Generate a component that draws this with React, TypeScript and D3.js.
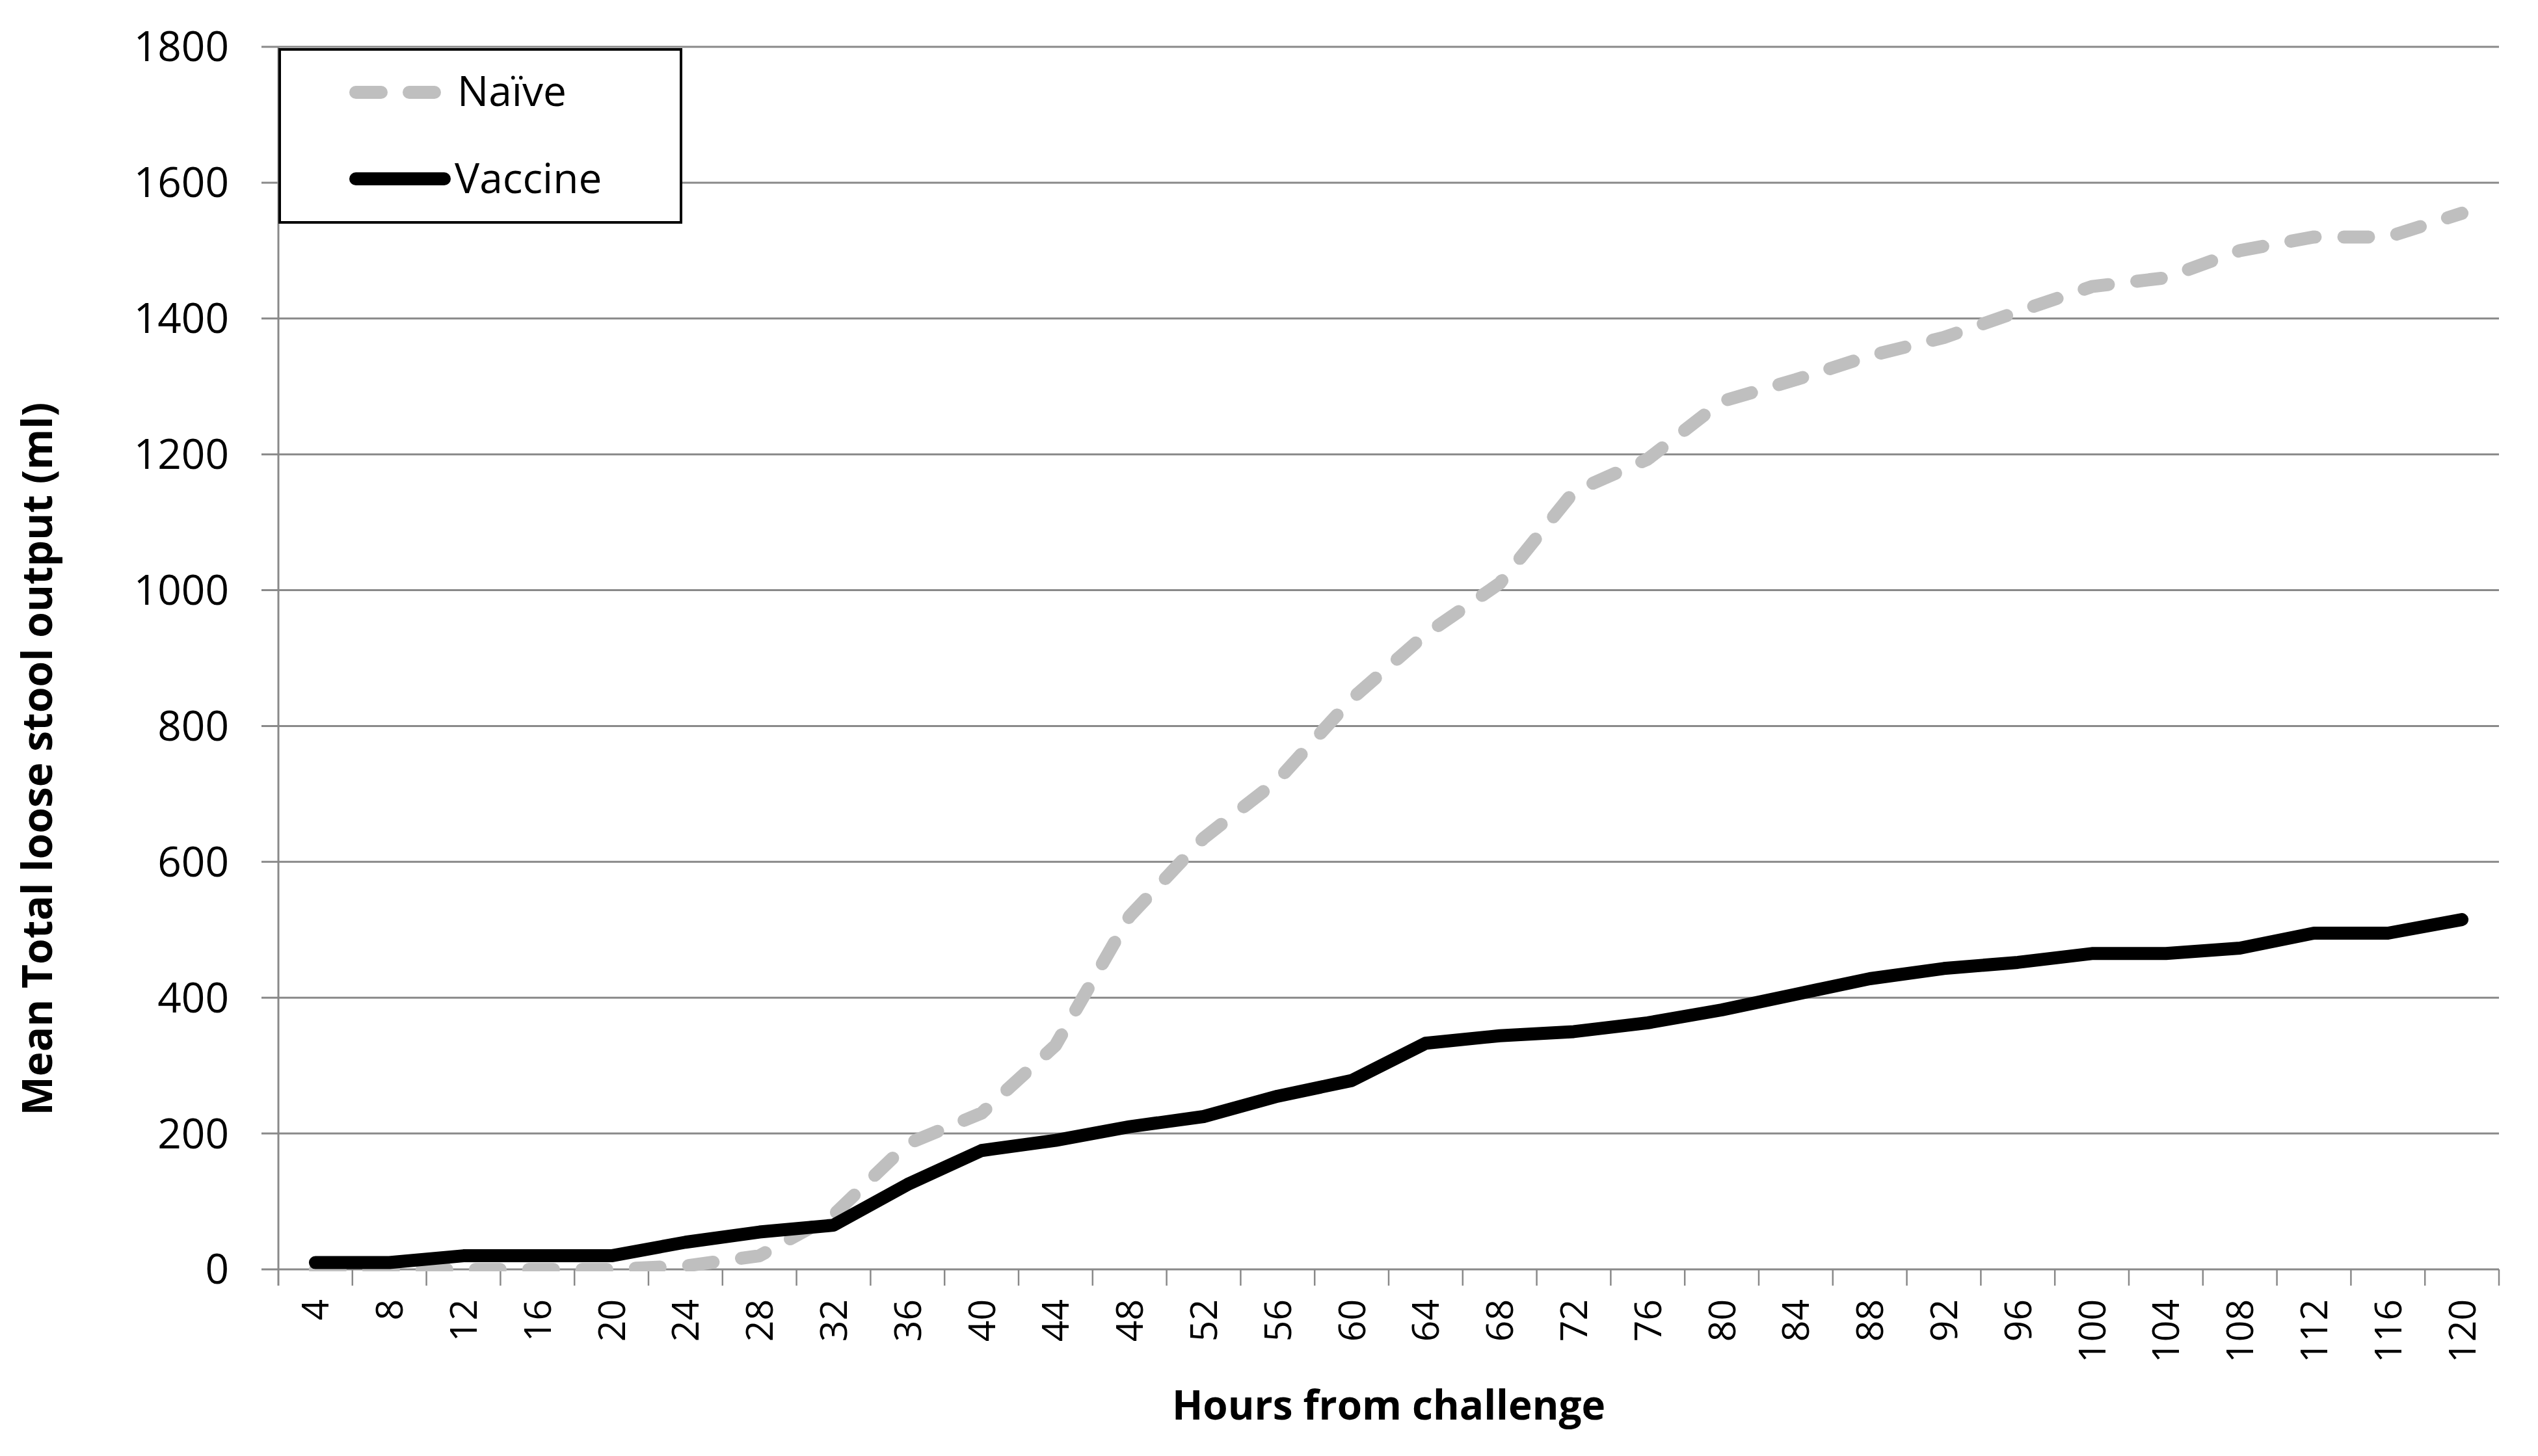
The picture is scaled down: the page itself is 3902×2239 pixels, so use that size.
import React, { useEffect, useRef } from 'react';
import * as d3 from 'd3';

const hours = [4, 8, 12, 16, 20, 24, 28, 32, 36, 40, 44, 48, 52, 56, 60, 64, 68, 72, 76, 80, 84, 88, 92, 96, 100, 104, 108, 112, 116, 120];
const naive = [0, 0, 0, 0, 0, 5, 20, 80, 185, 230, 330, 520, 635, 720, 840, 935, 1010, 1145, 1193, 1278, 1310, 1345, 1372, 1410, 1447, 1460, 1500, 1520, 1520, 1555];
const vaccine = [10, 10, 20, 20, 20, 40, 55, 65, 125, 175, 190, 210, 225, 255, 278, 333, 344, 350, 363, 382, 405, 428, 443, 452, 465, 465, 473, 495, 495, 515];
const yTicks = [0, 200, 400, 600, 800, 1000, 1200, 1400, 1600, 1800];
const seriesNames = ['Naïve', 'Vaccine'];
const yTitle = 'Mean Total loose stool output (ml)';
const xTitle = 'Hours from challenge';

const FONT = "'Open Sans', sans-serif";

export default function App() {
  const ref = useRef<SVGSVGElement>(null);

  useEffect(() => {
    const svg = d3.select(ref.current);
    svg.selectAll('*').remove();

    const left = 428, right = 3842, top = 72, bottom = 1952;
    const gridColor = '#898989';

    const x = d3.scaleBand<string>().domain(hours.map(String)).range([left, right]).padding(0);
    const y = d3.scaleLinear().domain([0, 1800]).range([bottom, top]);
    const cx = (h: number) => (x(String(h)) as number) + x.bandwidth() / 2;

    svg.append('rect').attr('width', 3902).attr('height', 2239).attr('fill', '#fff');

    // clip
    svg.append('defs').append('clipPath').attr('id', 'plotclip')
      .append('rect').attr('x', left).attr('y', 0).attr('width', right - left + 40).attr('height', 1955);

    // gridlines
    svg.append('g').selectAll('line').data(yTicks).join('line')
      .attr('x1', left - 26).attr('x2', right)
      .attr('y1', d => y(d)).attr('y2', d => y(d))
      .attr('stroke', gridColor).attr('stroke-width', 3);

    // y axis line
    svg.append('line').attr('x1', left).attr('x2', left).attr('y1', top).attr('y2', bottom + 25)
      .attr('stroke', gridColor).attr('stroke-width', 3);

    // x ticks at band boundaries
    const bounds = d3.range(hours.length + 1).map(i => left + i * x.bandwidth());
    svg.append('g').selectAll('line').data(bounds.slice(1)).join('line')
      .attr('x1', d => d).attr('x2', d => d).attr('y1', bottom).attr('y2', bottom + 25)
      .attr('stroke', gridColor).attr('stroke-width', 2.5);

    // y tick labels
    svg.append('g').selectAll('text').data(yTicks).join('text')
      .attr('x', 352).attr('y', d => y(d)).attr('dy', '0.35em')
      .attr('text-anchor', 'end').attr('font-family', FONT).attr('font-size', 64).attr('fill', '#000')
      .text(d => String(d));

    // x tick labels (rotated)
    svg.append('g').selectAll('text').data(hours).join('text')
      .attr('transform', d => `translate(${cx(d)},1998) rotate(-90)`)
      .attr('dy', '0.36em')
      .attr('text-anchor', 'end').attr('font-family', FONT).attr('font-size', 57).attr('fill', '#000')
      .text(d => String(d));

    // axis titles
    svg.append('text').attr('x', (left + right) / 2).attr('y', 2183)
      .attr('text-anchor', 'middle').attr('font-family', FONT).attr('font-weight', 'bold')
      .attr('font-size', 62).attr('fill', '#000').text(xTitle);

    svg.append('text').attr('transform', 'translate(80,1167) rotate(-90)')
      .attr('text-anchor', 'middle').attr('font-family', FONT).attr('font-weight', 'bold')
      .attr('font-size', 64).attr('fill', '#000').text(yTitle);

    // lines
    const line = d3.line<number>().x((_, i) => cx(hours[i])).y(d => y(d));
    const g = svg.append('g').attr('clip-path', 'url(#plotclip)');
    g.append('path').attr('d', line(naive) as string)
      .attr('fill', 'none').attr('stroke', '#bfbfbf').attr('stroke-width', 20)
      .attr('stroke-dasharray', '38 44').attr('stroke-linecap', 'round').attr('stroke-linejoin', 'round');
    g.append('path').attr('d', line(vaccine) as string)
      .attr('fill', 'none').attr('stroke', '#000').attr('stroke-width', 20)
      .attr('stroke-linecap', 'round').attr('stroke-linejoin', 'round');

    // legend
    const lg = svg.append('g');
    lg.append('rect').attr('x', 430).attr('y', 76).attr('width', 617).attr('height', 266)
      .attr('fill', '#fff').attr('stroke', '#000').attr('stroke-width', 4);
    lg.append('line').attr('x1', 547).attr('x2', 669).attr('y1', 142).attr('y2', 142)
      .attr('stroke', '#bfbfbf').attr('stroke-width', 20).attr('stroke-linecap', 'round')
      .attr('stroke-dasharray', '39 43');
    lg.append('line').attr('x1', 547).attr('x2', 683).attr('y1', 275).attr('y2', 275)
      .attr('stroke', '#000').attr('stroke-width', 20).attr('stroke-linecap', 'round');
    lg.append('text').attr('x', 703).attr('y', 163).attr('font-family', FONT).attr('font-size', 64)
      .attr('fill', '#000').text(seriesNames[0]);
    lg.append('text').attr('x', 699).attr('y', 297).attr('font-family', FONT).attr('font-size', 64)
      .attr('fill', '#000').text(seriesNames[1]);
  }, []);

  return (
    <svg ref={ref} width={3902} height={2239}
      style={{ position: 'absolute', left: 0, top: 0, background: '#fff' }} />
  );
}
